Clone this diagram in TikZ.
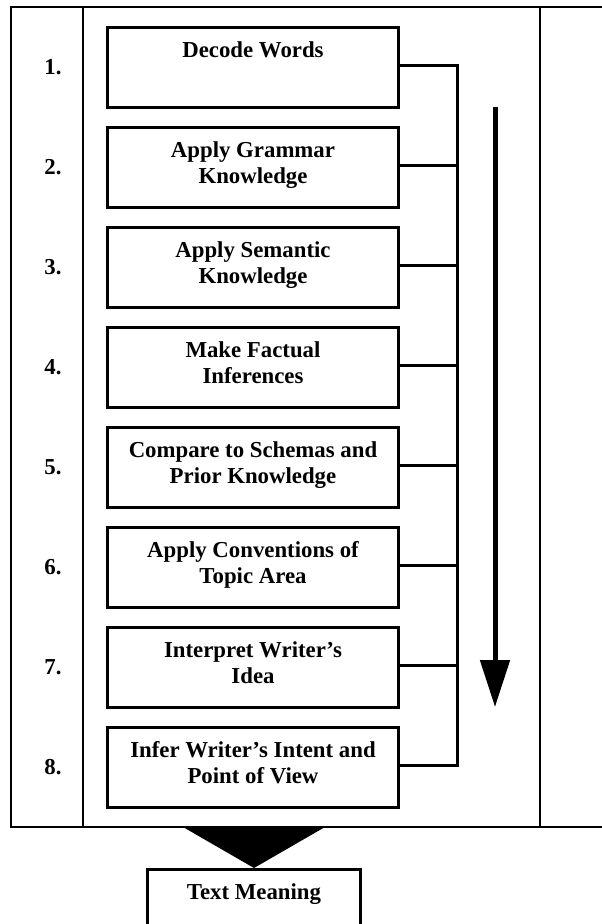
\documentclass[tikz,border=0pt]{standalone}
\usepackage{fontspec}
\setmainfont{Liberation Serif}
\usetikzlibrary{arrows.meta}
\newcommand{\steptext}[2][270pt]{\parbox[c][56pt][t]{#1}{\centering\strut #2\strut}}

\begin{document}
\begin{tikzpicture}[x=1pt, y=-1pt, font=\bfseries\fontsize{22.8}{26}\selectfont,
  frame/.style={line width=2.5pt},
  stepbox/.style={draw, line width=3pt, inner xsep=10pt, inner ysep=12pt, minimum width=291pt, minimum height=80pt},
  resultbox/.style={stepbox, minimum width=213pt},
  conn/.style={line width=3pt},
  num/.style={inner sep=0pt}]
\useasboundingbox (0,0) rectangle (602,924);
%----------------- frame and columns -----------------
\draw[frame] (620,7) -- (11,7) -- (11,827) -- (620,827);
\draw[frame] (83,7) -- (83,827);
\draw[frame] (540,7) -- (540,827);
%----------------- steps with their numbers -----------------
\foreach \k/\txt in {1/{Decode Words},
                     2/{Apply Grammar\\Knowledge},
                     3/{Apply Semantic\\Knowledge},
                     4/{Make Factual\\Inferences},
                     5/{Compare to Schemas and\\Prior Knowledge},
                     6/{Apply Conventions of\\Topic Area},
                     7/{Interpret Writer's\\Idea},
                     8/{Infer Writer's Intent and\\Point of View}} {
  \node[stepbox] (b\k) at (253,{67+100*(\k-1)}) {\steptext{\txt}};
  \node[num] (n\k) at (53,{67+100*(\k-1)}) {\k.};
}
%----------------- collecting line -----------------
\coordinate (spine) at (457,0);
\draw[conn] ([yshift=2pt]b1.east) -- ([yshift=2pt]b1.east -| spine) -- ([yshift=2pt]b8.east -| spine) -- ([yshift=2pt]b8.east);
\foreach \k in {2,...,7}
  \draw[conn] ([yshift=2pt]b\k.east) -- ([yshift=2pt]b\k.east -| spine);
% downward arrow
\coordinate (arrtop) at (495,107);
\coordinate (arrtip) at (495,707);
\draw[line width=5pt, -{Triangle[width=29pt, length=47pt]}] (arrtop) -- (arrtip);
%----------------- result -----------------
\node[resultbox, anchor=north] (meaning) at (254,868) {\steptext[190pt]{Text Meaning}};
\coordinate (funl) at (183,827);
\coordinate (funr) at (325,827);
\fill (funl) -- (funr) -- (meaning.north) -- cycle;
\end{tikzpicture}
\end{document}
